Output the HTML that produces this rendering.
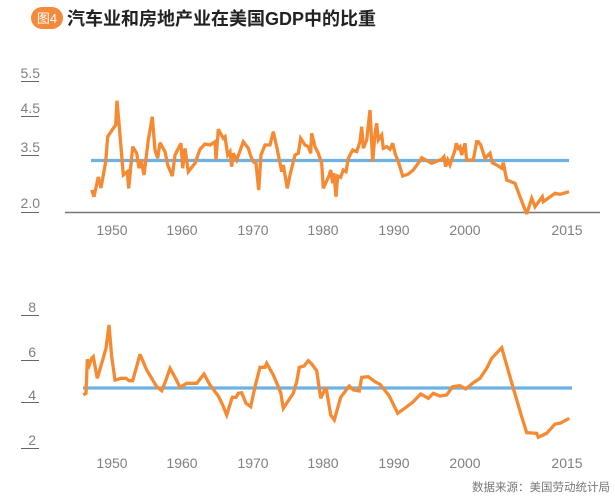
<!DOCTYPE html>
<html><head><meta charset="utf-8">
<style>
html,body{margin:0;padding:0;background:#fff;}
body{width:615px;height:503px;overflow:hidden;position:relative;}
svg{position:absolute;left:0;top:0;}
</style></head>
<body>
<svg width="615" height="503" viewBox="0 0 615 503" xmlns="http://www.w3.org/2000/svg">
  <!-- Title -->
  <rect x="31" y="7" width="32" height="22" rx="11" ry="11" fill="#f58a3a"/>
  <text x="47" y="23" text-anchor="middle" font-family="Liberation Sans, Noto Sans CJK SC, sans-serif" font-size="13" fill="#fff">图4</text>
  <text x="67" y="25" font-family="Liberation Sans, Noto Sans CJK SC, sans-serif" font-size="18" font-weight="bold" fill="#222">汽车业和房地产业在美国GDP中的比重</text>

  <g font-family="Liberation Sans, sans-serif" font-size="14" fill="#808080">
    <!-- Top y labels -->
    <text x="40" y="78" text-anchor="end">5.5</text>
    <text x="40" y="113" text-anchor="end">4.5</text>
    <text x="40" y="152" text-anchor="end">3.5</text>
    <text x="40" y="208" text-anchor="end">2.0</text>
    <!-- Top x labels -->
    <text x="112" y="235" text-anchor="middle">1950</text>
    <text x="182" y="235" text-anchor="middle">1960</text>
    <text x="253" y="235" text-anchor="middle">1970</text>
    <text x="323" y="235" text-anchor="middle">1980</text>
    <text x="394" y="235" text-anchor="middle">1990</text>
    <text x="465" y="235" text-anchor="middle">2000</text>
    <text x="567" y="235" text-anchor="middle">2015</text>
    <!-- Bottom y labels -->
    <text x="36" y="312" text-anchor="end">8</text>
    <text x="36" y="357" text-anchor="end">6</text>
    <text x="36" y="400" text-anchor="end">4</text>
    <text x="36" y="445" text-anchor="end">2</text>
    <!-- Bottom x labels -->
    <text x="112" y="468" text-anchor="middle">1950</text>
    <text x="182" y="468" text-anchor="middle">1960</text>
    <text x="253" y="468" text-anchor="middle">1970</text>
    <text x="323" y="468" text-anchor="middle">1980</text>
    <text x="394" y="468" text-anchor="middle">1990</text>
    <text x="465" y="468" text-anchor="middle">2000</text>
    <text x="567" y="468" text-anchor="middle">2015</text>
  </g>

  <!-- label underlines -->
  <g stroke="#666" stroke-width="1">
    <line x1="21" y1="81.5" x2="39" y2="81.5"/>
    <line x1="21" y1="116.5" x2="39" y2="116.5"/>
    <line x1="21" y1="155.5" x2="39" y2="155.5"/>
    <line x1="21" y1="212.5" x2="39" y2="212.5"/>
    <line x1="21" y1="315.5" x2="39" y2="315.5"/>
    <line x1="21" y1="360.5" x2="39" y2="360.5"/>
    <line x1="21" y1="402.5" x2="39" y2="402.5"/>
    <line x1="21" y1="448.5" x2="39" y2="448.5"/>
  </g>

  <!-- top axis -->
  <line x1="65" y1="212.5" x2="600" y2="212.5" stroke="#777" stroke-width="1.5"/>

  <!-- blue average lines -->
  <line x1="91" y1="160.5" x2="569" y2="160.5" stroke="#6cb2e4" stroke-width="3.2"/>
  <line x1="83" y1="388" x2="572" y2="388" stroke="#6cb2e4" stroke-width="3.2"/>

  <!-- top orange series -->
  <polyline fill="none" stroke="#f58a33" stroke-width="3.3" stroke-linejoin="miter" stroke-miterlimit="3"
    points="91.7,190 94,196.7 98.3,177 101,188 105.7,161.7 107.7,136.7 113.3,128.3 115.7,125 117,100.7 119.3,126.7 123.3,175 127.3,171.7 128.7,188.3 132.7,146.7 136.7,153.3 139,168.3 141,160 144,175 148.3,140 152.3,116.7 155,150 157.7,158.3 160,142.7 165,151.7 167.7,165 172.3,176 175,155 181,143.3 182.7,168.3 185,148.3 188.3,171.7 195,163.3 200,149.3 205,144 210,145 215,141.7 216,160 218.3,129.3 223.3,138.3 225,136.7 227.7,155 230,151.7 231.7,166.7 233.3,153.3 236.7,160 243.3,141.7 248.3,148.3 251,156.7 253.3,161.7 256,163.3 258.7,190 261,155 265,145 270,145 273.3,131.7 276.7,146.7 281.7,171.7 283.3,165 287.3,188.3 290,175 295,155 298.3,153.3 300.7,138.3 305,145 308.3,146.7 310.7,153.3 311.7,133.3 315,146.7 318.3,153.3 321.7,163.3 323.3,188.3 329.3,175 330.7,170 332.7,183.3 334,173.3 336,196.7 337.7,176 340.7,177.3 343.3,170 346,171.7 348.3,158.3 352.7,150 356.7,151.7 360,141.7 361.7,126.7 363.3,148.3 366.7,140 370,110 372.7,161.7 375,133.3 376.7,123.3 378.3,140 381.7,135 383.3,148.3 386.7,146.7 390,149.3 392.7,143.3 395,153.3 398.3,161.7 402.7,176 408.3,174 413.3,170 419.3,161.7 421.7,157.7 431.7,163.3 441.7,159.3 444,156.7 445.7,166.7 447.7,160 450,165 455,150 456.3,143.3 458.3,148.3 460,146.7 461.7,155 465,143.3 466.7,160 473.3,160 476.7,141.7 478.3,141.7 480.7,145 485,158.3 490,153.3 492.3,162.7 496.7,165 501.7,168.3 503.3,162.7 506.7,180 515,183.3 520,196.7 526.7,214 531.7,198.3 535,206.7 542.3,196.7 543.3,201.7 555,193.3 560,194.3 569,191.7"/>

  <!-- bottom orange series -->
  <polyline fill="none" stroke="#f58a33" stroke-width="3.3" stroke-linejoin="miter" stroke-miterlimit="3"
    points="83.3,395 86,393.3 87.3,359.3 89.3,365 91.7,358.3 93.3,356.7 97.3,378.3 101.7,363.3 106,348.3 109,325 111.7,356.7 115,380 118.3,379.3 120.7,378.3 126,378.3 129,380.7 132.7,380.7 140,354.3 146.7,370 156.7,386.7 161.7,390.7 166,380 170,368.3 175,377.3 180,387.3 186.7,383.3 196.7,383.3 204,374 210,385 218.3,396 222.7,405 226.7,415 232.3,397.3 236,397.3 238.3,393.3 241.7,392.7 246,403.3 250.7,406.7 255,386.7 260,367.3 265,367.3 266.7,363.3 273.3,375 278.3,386.7 280.7,392.7 283.3,408.3 293.3,393.3 296.7,381.7 299.3,367.3 304,366 308.3,360.7 311.7,364 316.7,370.7 320.7,398.3 326,387.3 330.7,415 334.3,420 340.7,397.3 349.3,386 353.3,390 359.3,391 361.7,377.3 368.3,376.7 375,381.7 380,384.3 389.3,396 397.7,413.3 403.3,409.3 412.7,402.3 420.7,394 428.3,398.3 433.3,393.3 440,396 446.7,395 452.7,386.7 460,385.7 465.7,389 473.3,382.7 480,378.3 486.7,368.3 491.7,358.3 501.7,347.7 513.3,388.3 521.7,416.7 526.7,432.7 536.7,433.3 538.3,437.3 546.7,433.3 555,424 560,423.3 569.3,418.3"/>

  <!-- source -->
  <text x="610" y="491" text-anchor="end" font-family="Liberation Sans, Noto Sans CJK SC, sans-serif" font-size="11.5" fill="#777">数据来源：美国劳动统计局</text>
</svg>
</body></html>
